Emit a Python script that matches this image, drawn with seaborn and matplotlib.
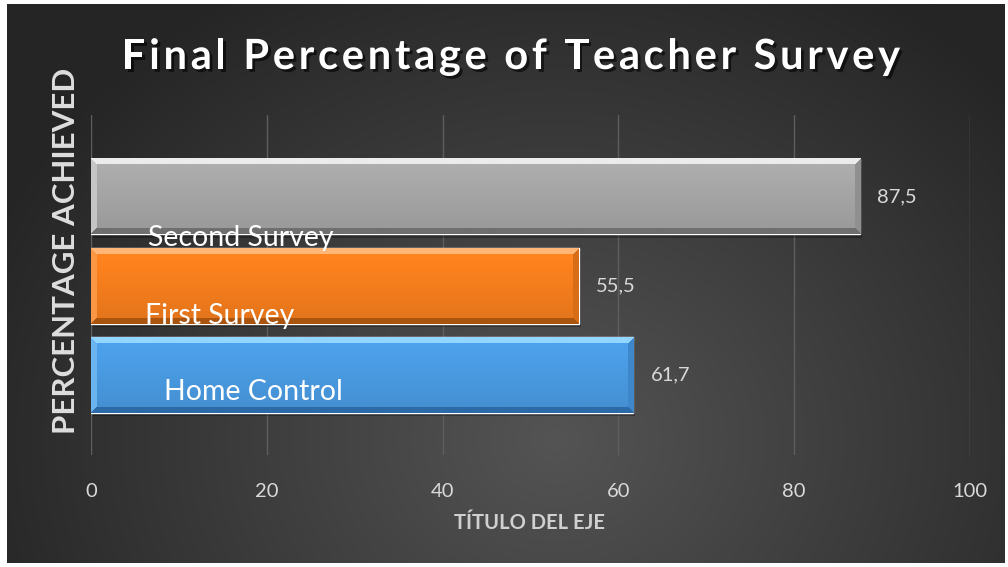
import numpy as np
import pandas as pd
import seaborn as sns
import matplotlib
matplotlib.use("Agg")
import matplotlib.pyplot as plt
from matplotlib import patheffects as pe
from matplotlib.colors import to_rgb
from matplotlib.font_manager import FontProperties

# ---- data ----
categories = ["Second Survey", "First Survey", "Home Control"]
values = [87.5, 55.5, 61.7]
x_ticks = [0, 20, 40, 60, 80, 100]
title = "Final Percentage of Teacher Survey"
xlabel = "TÍTULO DEL EJE"
ylabel = "PERCENTAGE ACHIEVED"

# ---- style ----
bar_colors = ["#a6a6a6", "#f67e1d", "#4a9be2"]
bevel_top = ["#ececec", "#ffb677", "#93d6ff"]
bevel_bot = ["#6f6f6f", "#a9540f", "#2c6aa8"]
# layout of in-bar category labels (data x centre, downward offset in category units)
label_x = [17.1, 14.6, 18.5]
label_dy = [0.465, 0.34, 0.19]

sns.set_theme(style="dark")
plt.rcParams["font.family"] = ["Lato", "DejaVu Sans"]

W, H = 1008, 567
fig = plt.figure(figsize=(W / 100, H / 100), dpi=100, facecolor="white")

# background radial gradient
bg = fig.add_axes([7 / W, 4 / H, 998 / W, 559 / H])
gh, gw = 280, 500
yy, xx = np.mgrid[0:gh, 0:gw]
xf = xx / (gw - 1)
yf = 1 - yy / (gh - 1)
r = np.sqrt(((xf - 0.55) / 0.62) ** 2 + ((yf - 0.22) / 0.95) ** 2)
r = np.clip(r, 0, 1)
c_in = np.array(to_rgb("#545454"))
c_out = np.array(to_rgb("#252525"))
img = c_in[None, None, :] * (1 - r[..., None]) + c_out[None, None, :] * r[..., None]
bg.imshow(img, aspect="auto", extent=[0, 1, 0, 1], origin="upper")
bg.set_axis_off()

ax = fig.add_axes([91 / W, 112 / H, 879 / W, 340 / H])
ax.patch.set_alpha(0)

df = pd.DataFrame({"category": categories, "value": values})
sns.barplot(data=df, x="value", y="category", hue="category", order=categories,
            hue_order=categories, palette=bar_colors, orient="h", width=0.85,
            saturation=1, legend=False, ax=ax, zorder=3)

ylim = (2.896, -0.913)
ax.set_xlim(0, 100)

px_per_x = 879 / 100
px_per_y = 340 / (ylim[0] - ylim[1])
for i, p in enumerate(ax.patches):
    x0, y0, w, h = p.get_x(), p.get_y(), p.get_width(), p.get_height()
    nw = max(int(round(w * px_per_x)), 2)
    nh = max(int(round(h * px_per_y)), 2)
    base = np.array(to_rgb(bar_colors[i]))
    top = np.array(to_rgb(bevel_top[i]))
    bot = np.array(to_rgb(bevel_bot[i]))
    rows = np.arange(nh)[:, None]
    cols = np.arange(nw)[None, :]
    t = rows / (nh - 1)
    arr = np.ones((nh, nw, 3)) * base
    shade = (1.06 - 0.14 * t)[..., None]
    arr = np.clip(arr * shade, 0, 1)
    bw = 6
    m_top = (rows < bw) & (rows <= cols) & (rows <= (nw - 1 - cols))
    m_bot = (rows >= nh - bw) & ((nh - 1 - rows) <= cols) & ((nh - 1 - rows) <= (nw - 1 - cols))
    m_left = (cols < bw) & ~m_top & ~m_bot
    m_right = (cols >= nw - bw) & ~m_top & ~m_bot
    arr[np.broadcast_to(m_top, (nh, nw))] = top
    arr[np.broadcast_to(m_bot, (nh, nw))] = bot
    arr[np.broadcast_to(m_left, (nh, nw))] = base * 0.55 + top * 0.45
    arr[np.broadcast_to(m_right, (nh, nw))] = base * 0.6 + bot * 0.4
    ax.imshow(arr, extent=[x0, x0 + w, y0 + h, y0], origin="upper",
              aspect="auto", zorder=4, interpolation="bilinear")
    p.set_path_effects([pe.SimplePatchShadow(offset=(1.5, -2.5), shadow_rgbFace="black", alpha=0.28),
                        pe.Normal()])

ax.set_ylim(*ylim)
ax.set_xlim(0, 100)
ax.set_xticks(x_ticks)
ax.set_xticklabels([str(t) for t in x_ticks])
ax.set_yticks([])
ax.set_xlabel("")
ax.set_ylabel("")
ax.grid(axis="x", color="#5e5e5e", lw=1)
ax.grid(axis="y", visible=False)
ax.set_axisbelow(True)
for s in ax.spines.values():
    s.set_visible(False)
ax.tick_params(axis="x", length=0, pad=20, labelsize=14.5, labelcolor="#d9d9d9")

for i, (cat, v) in enumerate(zip(categories, values)):
    ax.text(v + 1.95, i, f"{v:.1f}".replace(".", ","), va="center", ha="left",
            color="#d9d9d9", fontsize=14.5, zorder=6)
    ax.text(label_x[i], i + label_dy[i], cat, va="center", ha="center",
            color="white", fontsize=20.5, zorder=6)

# title with letter spacing (tracking), drawn character by character
renderer = fig.canvas.get_renderer()
tprop = FontProperties(family=["Lato", "DejaVu Sans"], weight="bold", size=30)
def tw(s):
    return renderer.get_text_width_height_descent(s, tprop, ismath=False)[0]
ref_w = tw("xx")
adv = [tw("x" + c + "x") - ref_w for c in title]
tracking = 3.7
total = sum(adv) + tracking * (len(title) - 1)
xpos = 511 - total / 2
for c, a in zip(title, adv):
    if c != " ":
        fig.text(xpos / W, 1 - 57 / H, c, ha="left", va="center", color="white",
                 fontproperties=tprop,
                 path_effects=[pe.withSimplePatchShadow(offset=(2, -2), shadow_rgbFace="black", alpha=0.6)])
    xpos += a + tracking

fig.text(66 / W, 1 - 251 / H, ylabel, ha="center", va="center", rotation=90,
         color="#dedede", fontsize=22.5, fontweight="bold")
fig.text(530 / W, 1 - 523 / H, xlabel, ha="center", va="center",
         color="#d0d0d0", fontsize=14.5, fontweight="bold")

fig.savefig("out.png", dpi=100, facecolor="white")
